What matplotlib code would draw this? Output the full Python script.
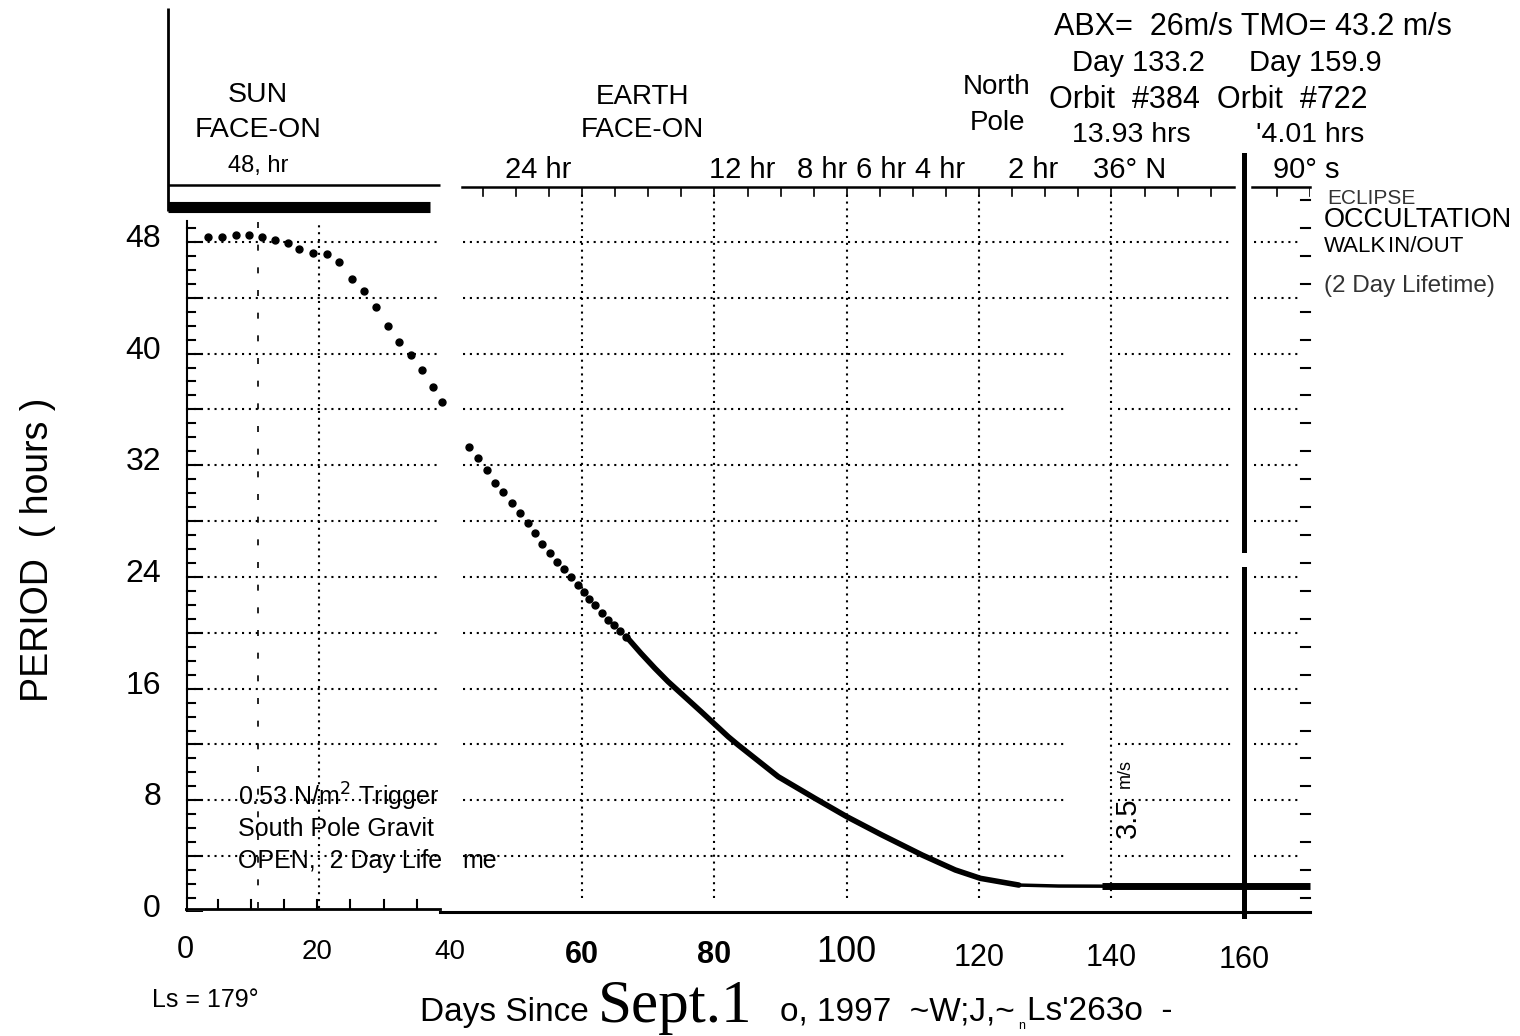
import matplotlib
matplotlib.use('Agg')
import matplotlib.pyplot as plt
from matplotlib.lines import Line2D

plt.rcParams['font.family'] = ['Liberation Sans', 'DejaVu Sans']

# period of the orbit (hours) against days since Sept. 1997
sun_days = [3.5, 5.6, 7.7, 9.6, 11.6, 13.6, 15.5, 17.3, 19.3, 21.5, 23.3, 25.2,
            27.0, 28.8, 30.6, 32.3, 34.1, 35.8, 37.4, 38.9]
sun_period = [48.33, 48.37, 48.50, 48.50, 48.33, 48.14, 47.90, 47.49, 47.18, 47.11,
              46.54, 45.34, 44.48, 43.36, 42.00, 40.81, 39.90, 38.83, 37.59, 36.51]

earth_dot_days = [42.9, 44.35, 45.6, 46.8, 48.1, 49.35, 50.6, 51.8, 52.9, 54.0, 55.15,
                  56.2, 57.3, 58.4, 59.35, 60.25, 61.1, 62.0, 63.0, 63.9, 64.8, 65.75, 66.7]
earth_dot_period = [33.33, 32.54, 31.66, 30.71, 30.10, 29.31, 28.55, 27.88, 27.12, 26.36,
                    25.69, 25.09, 24.55, 23.97, 23.42, 22.90, 22.42, 21.99, 21.44, 20.92,
                    20.56, 20.15, 19.72]

earth_line_days = [66.7, 68.9, 71.0, 73.0, 78.0, 82.1, 83.6, 89.65, 95.2, 100.0,
                   105.3, 111.4, 116.4, 120.2, 126.0]
earth_line_period = [19.72, 18.53, 17.46, 16.50, 14.35, 12.55, 11.96, 9.69, 8.14, 6.83,
                     5.52, 4.08, 3.01, 2.41, 1.93]

plateau_days = [126.0, 132.0, 138.6]
plateau_period = [1.93, 1.86, 1.85]

tail_days = [138.6, 170.0]
tail_period = [1.85, 1.85]

xtick_vals = [0, 20, 40, 60, 80, 100, 120, 140, 160]
xtick_labels = ['0', '20', '40', '60', '80', '100', '120', '140', '160']
ytick_vals = [0, 8, 16, 24, 32, 40, 48]
ytick_labels = ['0', '8', '16', '24', '32', '40', '48']

W, H = 1520, 1036


def fx(x):
    return x / W


def fy(y):
    return 1 - y / H


def ftext(x, y, s, size=19, **kw):
    kw.setdefault('ha', 'center')
    kw.setdefault('va', 'center')
    fig.text(fx(x), fy(y), s, fontsize=size, **kw)


def fline(xs, ys, lw=1.5, **kw):
    fig.add_artist(Line2D([fx(v) for v in xs], [fy(v) for v in ys], lw=lw,
                          color='black', solid_capstyle='butt', **kw))


fig = plt.figure(figsize=(15.2, 10.36), dpi=100)
ax = fig.add_axes([fx(185), fy(912), fx(1310) - fx(185), fy(187) - fy(912)])
ax.set_xlim(0, 170)
ax.set_ylim(0, 51.93)
for s in ax.spines.values():
    s.set_visible(False)

dot = dict(color='black', lw=1.5, linestyle=(0, (1, 2.3)))

# horizontal dotted grid, left (sun) panel and right (earth) panel
for h in range(4, 49, 4):
    ax.plot([0.3, 38.6], [h, h], **dot)
    if h in (40, 36, 12, 8, 4):
        ax.plot([42, 133.5], [h, h], **dot)
        ax.plot([141, 158.2], [h, h], **dot)
    else:
        ax.plot([42, 158.2], [h, h], **dot)
    ax.plot([161.5, 168.5], [h, h], **dot)

# vertical grid
ax.plot([11, 11], [0.3, 49.5], color='black', lw=1.2, linestyle=(0, (3.6, 10)))
ax.plot([20.3, 20.3], [0.3, 49.5], **dot)
for d in [60, 80, 100, 120, 140]:
    ax.plot([d, d], [1.0, 51.5], **dot)

# left panel frame with inward ticks
ax.plot([0.3, 0.3], [0, 49.5], color='black', lw=1.5)
for h in range(0, 50):
    ln = 2.2 if h % 4 == 0 else 1.2
    ax.plot([0.3, 0.3 + ln], [h, h], color='black', lw=1.5)
for d in range(5, 40, 5):
    ax.plot([d, d], [0.25, 0.85], color='black', lw=1.5)
ax.plot([0, 38.6], [0.25, 0.25], color='black', lw=2)

# right panel frame
ax.plot([38.6, 170], [0, 0], color='black', lw=2.2, clip_on=False)
ax.plot([41.8, 158.5], [51.93, 51.93], color='black', lw=1.8, clip_on=False)
ax.plot([161.3, 170], [51.93, 51.93], color='black', lw=1.8, clip_on=False)
for d in range(45, 171, 5):
    if d != 160:
        ax.plot([d, d], [51.93, 51.3], color='black', lw=1.2)
for h in range(1, 52, 2):
    ax.plot([168.6, 170], [h, h], color='black', lw=1.5, clip_on=False)

# eclipse line at day 160
ax.plot([160, 160], [54.2, 25.9], color='black', lw=3.6, clip_on=False)
ax.plot([160, 160], [24.6, -0.3], color='black', lw=3.6, clip_on=False)

# period curve
ax.plot(sun_days, sun_period, 'o', color='black', ms=5)
ax.plot(earth_dot_days, earth_dot_period, 'o', color='black', ms=5)
ax.plot(earth_line_days, earth_line_period, color='black', lw=4, solid_capstyle='round')
ax.plot(plateau_days, plateau_period, color='black', lw=2.5)
ax.plot(tail_days, tail_period, color='black', lw=5, solid_capstyle='butt', clip_on=False)

ax.set_xticks([])
ax.set_yticks([])

# tick labels
label_dy = [0, 2, 2, 5, 5, 2, 8, 8, 10]
for v, lab, dy in zip(xtick_vals, xtick_labels, label_dy):
    weight = 'bold' if lab in ('60', '80') else 'normal'
    size = {'0': 22, '20': 20, '40': 20, '100': 26}.get(lab, 22)
    ftext(185 + v * 6.618, 950 + dy, lab, size=size, weight=weight)
for v, lab in zip(ytick_vals, ytick_labels):
    ftext(161, 912 - v * 13.96 - 3, lab, size=23, ha='right')

ftext(38, 550, 'PERIOD  ( hours )', size=27, rotation=90)
ftext(205, 1000, 'Ls = 179°', size=18)
ftext(420, 1012, 'Days Since', size=24, ha='left')
ftext(598, 1007, 'Sept.1', size=44, ha='left', family=['Liberation Serif', 'DejaVu Serif'])
ftext(780, 1012, 'o, 1997  ~W;J,~', size=24, ha='left')
ftext(1018, 1026, 'n', size=9, ha='left')
ftext(1027, 1012, "Ls'263o  -", size=24, ha='left')

# header box over the sun panel
fline([168, 168], [8, 211], lw=2)
fline([168, 440], [185, 185], lw=1.8)
fline([168, 430], [207, 207], lw=8)
ftext(258, 95, 'SUN', size=20.5)
ftext(258, 130, 'FACE-ON', size=20.5)
ftext(258, 166, '48, hr', size=17)

ftext(642, 97, 'EARTH', size=20)
ftext(642, 130, 'FACE-ON', size=20)
ftext(997, 87, 'North', size=20)
ftext(997, 123, 'Pole', size=20)

for lab, x in [('24 hr', 538), ('12 hr', 742), ('8 hr', 822), ('6 hr', 881),
               ('4 hr', 940), ('2 hr', 1033), ('36° N', 1130), ('90° s', 1306)]:
    ftext(x, 170, lab, size=21)

ftext(1054, 27, 'ABX=  26m/s TMO= 43.2 m/s', size=22, ha='left')
ftext(1138, 63, 'Day 133.2', size=21)
ftext(1315, 63, 'Day 159.9', size=21)
ftext(1049, 100, 'Orbit  #384  Orbit  #722', size=22, ha='left')
ftext(1131, 135, '13.93 hrs', size=20.5)
ftext(1310, 135, "'4.01 hrs", size=20.5)

ftext(1327, 198, 'ECLIPSE', size=15, ha='left', color='#333333')
ftext(1324, 220, 'OCCULTATION', size=19.5, ha='left')
ftext(1324, 247, 'WALK', size=16, ha='left')
ftext(1388, 247, 'IN/OUT', size=16, ha='left')
ftext(1324, 286, '(2 Day Lifetime)', size=17.5, ha='left', color='#333333')

ftext(1128, 818, '3.5', size=21, rotation=90)
ftext(1125, 774, 'm/s', size=13, rotation=90)

ftext(238, 797, '0.53 N/m$^2$ Trigger', size=18, ha='left')
ftext(238, 829, 'South Pole Gravit', size=18, ha='left')
ftext(238, 861, 'OPEN,  2 Day Life', size=18, ha='left')
ftext(462, 861, 'me', size=18, ha='left')

fig.savefig('out.png', dpi=100, facecolor='white')
